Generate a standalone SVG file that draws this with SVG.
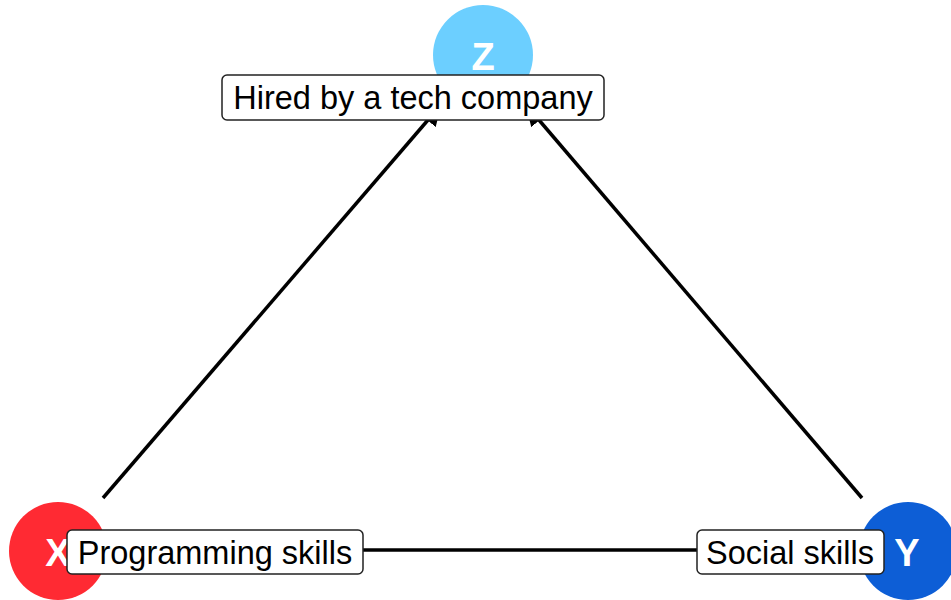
<svg xmlns="http://www.w3.org/2000/svg" width="951" height="600" viewBox="0 0 951 600">
<defs>
<style>
.node-letter{font-family:"Liberation Sans",Arial,sans-serif;font-weight:bold;font-size:38px;fill:#fff;text-anchor:middle}
.lbl rect{fill:#fff;stroke:#222;stroke-width:1.5}
.lbl text{font-family:"Liberation Sans",Arial,sans-serif;font-size:32.5px;fill:#000;text-anchor:middle}
.edge{stroke:#000;stroke-width:3.5;fill:none}
</style>
<marker id="arr" viewBox="0 0 10 10" refX="9" refY="5" markerWidth="6" markerHeight="6" orient="auto" markerUnits="strokeWidth">
<path d="M0,0 L10,5 L0,10 z" fill="#000"/>
</marker>
</defs>
<rect width="951" height="600" fill="#fff"/>
<g id="node-Z"><circle cx="483" cy="55" r="50" fill="#6CCFFF"/><text class="node-letter" x="483" y="70">Z</text></g>
<g id="node-X"><circle cx="58" cy="551" r="49" fill="#FF2A33"/><text class="node-letter" x="58" y="566">X</text></g>
<g id="node-Y"><circle cx="908" cy="551" r="49" fill="#0D5ED6"/><text class="node-letter" x="907" y="566">Y</text></g>
<g id="connectors">
<line class="edge" x1="103" y1="498" x2="440" y2="106" marker-end="url(#arr)"/>
<line class="edge" x1="862" y1="498" x2="527" y2="106" marker-end="url(#arr)"/>
<line class="edge" x1="110" y1="550" x2="860" y2="550"/>
</g>
<g id="label-Z" class="lbl"><rect x="222" y="75" width="382" height="45" rx="5"/><text x="413" y="109">Hired by a tech company</text></g>
<g id="label-X" class="lbl"><rect x="67" y="530" width="296" height="44" rx="5"/><text x="215" y="564">Programming skills</text></g>
<g id="label-Y" class="lbl"><rect x="697" y="530" width="187" height="44" rx="5"/><text x="790" y="564">Social skills</text></g>
</svg>
